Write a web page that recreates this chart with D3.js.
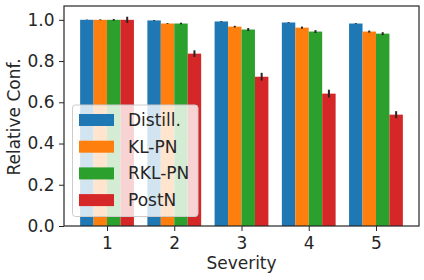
<!DOCTYPE html>
<html>
<head>
<meta charset="utf-8">
<script src="https://cdn.jsdelivr.net/npm/d3@7"></script>
<style>
  body { margin: 0; background: #fff; }
  text { font-family: "DejaVu Sans", sans-serif; fill: #262626; }
</style>
</head>
<body>
<div id="chart"></div>
<script>
// data
var severities = [1, 2, 3, 4, 5];
var seriesNames = ["Distill.", "KL-PN", "RKL-PN", "PostN"];
var seriesColors = ["#1f77b4", "#ff7f0e", "#2ca02c", "#d62728"];
var distillVals = [1.000, 0.997, 0.992, 0.987, 0.982];
var klVals      = [1.000, 0.982, 0.967, 0.962, 0.943];
var rklVals     = [1.000, 0.982, 0.953, 0.943, 0.933];
var postnVals   = [1.000, 0.836, 0.724, 0.642, 0.540];
var distillErr  = [0.001, 0.002, 0.002, 0.002, 0.002];
var klErr       = [0.002, 0.002, 0.004, 0.005, 0.005];
var rklErr      = [0.004, 0.004, 0.007, 0.007, 0.007];
var postnErr    = [0.015, 0.016, 0.019, 0.019, 0.017];
var yTicks = [0.0, 0.2, 0.4, 0.6, 0.8, 1.0];

var values = [distillVals, klVals, rklVals, postnVals];
var errors = [distillErr, klErr, rklErr, postnErr];

var W = 424, H = 280;
var margin = { top: 6, right: 5, bottom: 54, left: 64 };
var barW = 0.2;
var fontSize = "17px";

var svg = d3.select("#chart").append("svg")
    .attr("width", W).attr("height", H);

var x = d3.scaleLinear().domain([0.36, 5.64]).range([margin.left, W - margin.right]);
var y = d3.scaleLinear().domain([0, 1.067]).range([H - margin.bottom, margin.top]);

var bars = [];
values.forEach(function (vals, s) {
    vals.forEach(function (v, i) {
        bars.push({ s: s, sev: severities[i], v: v, e: errors[s][i] });
    });
});

var g = svg.append("g");
g.selectAll("rect.bar").data(bars).enter().append("rect")
    .attr("class", "bar")
    .attr("x", function (d) { return x(d.sev - 0.4 + d.s * barW); })
    .attr("width", function (d) { return x(d.sev - 0.4 + (d.s + 1) * barW) - x(d.sev - 0.4 + d.s * barW); })
    .attr("y", function (d) { return y(d.v); })
    .attr("height", function (d) { return y(0) - y(d.v); })
    .attr("fill", function (d) { return seriesColors[d.s]; });

g.selectAll("line.err").data(bars).enter().append("line")
    .attr("class", "err")
    .attr("x1", function (d) { return x(d.sev - 0.4 + (d.s + 0.5) * barW); })
    .attr("x2", function (d) { return x(d.sev - 0.4 + (d.s + 0.5) * barW); })
    .attr("y1", function (d) { return y(d.v - d.e); })
    .attr("y2", function (d) { return y(d.v + d.e); })
    .attr("stroke", "#262626")
    .attr("stroke-width", 2);

// axes
var xAxis = svg.append("g")
    .attr("transform", "translate(0," + (H - margin.bottom) + ")")
    .call(d3.axisBottom(x).tickValues(severities).tickFormat(d3.format("d")).tickSize(5).tickPadding(6));
var yAxis = svg.append("g")
    .attr("transform", "translate(" + margin.left + ",0)")
    .call(d3.axisLeft(y).tickValues(yTicks).tickFormat(d3.format(".1f")).tickSize(5).tickPadding(4.5));
[xAxis, yAxis].forEach(function (a) {
    a.select(".domain").remove();
    a.selectAll("line").attr("stroke", "#262626").attr("stroke-width", 1);
    a.selectAll("text").style("font-size", fontSize).attr("fill", "#262626");
});

// frame
svg.append("rect")
    .attr("x", margin.left).attr("y", margin.top)
    .attr("width", W - margin.left - margin.right)
    .attr("height", H - margin.top - margin.bottom)
    .attr("fill", "none").attr("stroke", "#262626").attr("stroke-width", 1.2);

svg.append("text")
    .attr("transform", "translate(20," + ((margin.top + H - margin.bottom) / 2 + 1) + ") rotate(-90)")
    .attr("text-anchor", "middle")
    .style("font-size", fontSize)
    .text("Relative Conf.");

svg.append("text")
    .attr("x", (margin.left + W - margin.right) / 2)
    .attr("y", 269)
    .attr("text-anchor", "middle")
    .style("font-size", fontSize)
    .text("Severity");

// legend
var leg = svg.append("g");
leg.append("rect")
    .attr("x", 72.5).attr("y", 105)
    .attr("width", 125.5).attr("height", 111.5)
    .attr("rx", 3)
    .attr("fill", "#fff").attr("fill-opacity", 0.8)
    .attr("stroke", "#cccccc").attr("stroke-width", 1);
var items = leg.selectAll("g.item").data(seriesNames).enter().append("g")
    .attr("class", "item")
    .attr("transform", function (d, i) { return "translate(0," + (120 + i * 26.7) + ")"; });
items.append("rect")
    .attr("x", 79).attr("y", -6).attr("width", 35).attr("height", 12)
    .attr("fill", function (d, i) { return seriesColors[i]; });
items.append("text")
    .attr("x", 128).attr("y", 6)
    .style("font-size", fontSize)
    .text(function (d) { return d; });
</script>
</body>
</html>
